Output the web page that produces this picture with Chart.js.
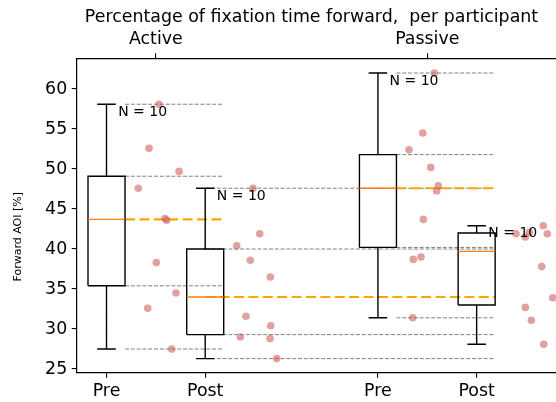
<!DOCTYPE html>
<html>
<head>
<meta charset="utf-8">
<script src="https://cdn.jsdelivr.net/npm/chart.js@4/dist/chart.umd.min.js"></script>
<style>
  html, body { margin: 0; padding: 0; background: #fff; overflow: hidden; }
  canvas { display: block; }
</style>
</head>
<body>
<canvas id="chart" width="556" height="402"></canvas>
<script>
// Box categories and their group headings
const categories = ['Pre', 'Post', 'Pre', 'Post'];
const groups = ['Active', 'Passive'];
const positions = [1, 2, 3.75, 4.75];
const groupPositions = [1.5, 4.25];
const yTicks = [25, 30, 35, 40, 45, 50, 55, 60];

// Box statistics (percent of fixation time on the forward AOI)
const whiskerLow  = [27.5, 26.3, 31.4, 28.1];
const q1          = [35.4, 29.3, 40.2, 33.0];
const median      = [43.7, 34.0, 47.6, 39.7];
const q3          = [49.1, 40.0, 51.8, 42.0];
const whiskerHigh = [58.1, 47.6, 62.0, 42.9];
const counts      = [10, 10, 10, 10];

// Each box's levels are carried across to the right edge of another box (none for the last)
const compareTo   = [1, 3, 3, null];
const carryFrom   = ['edge', 'centre', 'edge', null];

// Per-participant values with their jittered x placement
const activePre   = [58.1, 52.6, 49.7, 47.6, 43.8, 43.6, 38.3, 34.5, 32.6, 27.5];
const activePreX  = [1.532, 1.431, 1.735, 1.322, 1.593, 1.610, 1.505, 1.704, 1.417, 1.661];
const activePost  = [47.6, 41.9, 40.4, 38.6, 36.5, 31.6, 29.0, 30.4, 28.8, 26.3];
const activePostX = [2.484, 2.552, 2.319, 2.457, 2.660, 2.413, 2.356, 2.664, 2.657, 2.724];
const passivePre  = [62.0, 54.5, 52.4, 50.2, 47.9, 47.25, 43.7, 39.0, 38.7, 31.4];
const passivePreX = [4.321, 4.204, 4.065, 4.285, 4.362, 4.345, 4.210, 4.186, 4.108, 4.102];
const passivePost  = [42.9, 41.9, 41.9, 41.5, 42.1, 37.8, 33.9, 32.7, 31.1, 28.1];
const passivePostX = [5.425, 5.466, 5.149, 5.243, 5.284, 5.409, 5.521, 5.243, 5.304, 5.430];

const titleText = 'Percentage of fixation time forward,  per participant';
const yLabel = 'Forward AOI [%]';

// Geometry / style
const BOX_HALF = 0.1875;
const CAP_HALF = 0.094;
const FONT = '"DejaVu Sans", sans-serif';
const BIG = 17.4;

const gap = (x) => ({ x: x, y: null });

// Box outlines, whiskers and caps
const boxPts = [];
positions.forEach((p, i) => {
  const l = p - BOX_HALF, r = p + BOX_HALF;
  boxPts.push({x: l, y: q1[i]}, {x: r, y: q1[i]}, {x: r, y: q3[i]}, {x: l, y: q3[i]}, {x: l, y: q1[i]}, gap(p));
  boxPts.push({x: p, y: q1[i]}, {x: p, y: whiskerLow[i]}, gap(p));
  boxPts.push({x: p - CAP_HALF, y: whiskerLow[i]}, {x: p + CAP_HALF, y: whiskerLow[i]}, gap(p));
  boxPts.push({x: p, y: q3[i]}, {x: p, y: whiskerHigh[i]}, gap(p));
  boxPts.push({x: p - CAP_HALF, y: whiskerHigh[i]}, {x: p + CAP_HALF, y: whiskerHigh[i]}, gap(p));
});

// Medians inside the boxes
const medPts = [];
positions.forEach((p, i) => {
  medPts.push({x: p - BOX_HALF, y: median[i]}, {x: p + BOX_HALF, y: median[i]}, gap(p));
});

// Dashed carry-over lines
const refPts = [], refMedPts = [];
positions.forEach((p, i) => {
  const k = compareTo[i];
  if (k === null) return;
  const start = carryFrom[i] === 'edge' ? p + BOX_HALF : p;
  const end = positions[k] + BOX_HALF;
  [whiskerHigh[i], q3[i], q1[i], whiskerLow[i]].forEach(v => {
    refPts.push({x: start, y: v}, {x: end, y: v}, gap(end));
  });
  refMedPts.push({x: start, y: median[i]}, {x: end, y: median[i]}, gap(end));
});

const dots = [];
[[activePreX, activePre], [activePostX, activePost], [passivePreX, passivePre], [passivePostX, passivePost]]
  .forEach(([xs, ys]) => xs.forEach((xv, j) => dots.push({x: xv, y: ys[j]})));

const lineBase = {
  type: 'line', pointRadius: 0, pointHoverRadius: 0, tension: 0, fill: false,
  spanGaps: false, borderCapStyle: 'butt', borderJoinStyle: 'miter',
  xAxisID: 'x', yAxisID: 'y'
};

const annotate = {
  id: 'annotate',
  afterDraw(chart) {
    const { ctx, scales: { x, y } } = chart;
    ctx.save();
    ctx.fillStyle = '#000';
    ctx.font = BIG + 'px ' + FONT;
    ctx.textAlign = 'center';
    ctx.textBaseline = 'alphabetic';
    ctx.fillText(titleText, 311.5, 22);

    ctx.font = '14px ' + FONT;
    ctx.textAlign = 'left';
    counts.forEach((n, i) => {
      ctx.fillText('N = ' + n, x.getPixelForValue(positions[i] + 0.118), y.getPixelForValue(whiskerHigh[i]) + 11.5);
    });

    ctx.translate(18, 236.7);
    ctx.rotate(-Math.PI / 2);
    ctx.font = '11px ' + FONT;
    ctx.textAlign = 'center';
    ctx.textBaseline = 'middle';
    ctx.fillText(yLabel, 0, 0);
    ctx.restore();
  }
};

const noPad = (s) => { s.paddingLeft = 0; s.paddingRight = 0; s.paddingTop = 0; s.paddingBottom = 0; };

Chart.defaults.color = '#000';
Chart.defaults.font.family = FONT;

new Chart(document.getElementById('chart'), {
  type: 'scatter',
  data: {
    datasets: [
      {
        type: 'scatter', data: dots, order: 0,
        pointRadius: 3.8, pointHoverRadius: 3.8, pointBorderWidth: 0,
        backgroundColor: 'rgba(205, 92, 92, 0.58)', borderColor: 'rgba(0,0,0,0)',
        xAxisID: 'x', yAxisID: 'y'
      },
      Object.assign({}, lineBase, { data: medPts, order: 1, borderColor: '#ff7f0e', borderWidth: 1.4 }),
      Object.assign({}, lineBase, { data: boxPts, order: 2, borderColor: '#000', borderWidth: 1.4 }),
      Object.assign({}, lineBase, { data: refMedPts, order: 3, borderColor: '#ffa500', borderWidth: 2.1, borderDash: [10, 4.4] }),
      Object.assign({}, lineBase, { data: refPts, order: 4, borderColor: '#808080', borderWidth: 1, borderDash: [4, 1.8] })
    ]
  },
  options: {
    responsive: false,
    animation: false,
    devicePixelRatio: 1,
    events: [],
    layout: { padding: 0, autoPadding: false },
    plugins: { legend: { display: false }, tooltip: { enabled: false }, title: { display: false } },
    scales: {
      x: {
        type: 'linear', position: 'bottom', min: 0.698, max: 5.554,
        afterBuildTicks: (s) => { s.ticks = positions.map(v => ({ value: v })); },
        afterFit: (s) => { s.height = 29.3; noPad(s); },
        ticks: { autoSkip: false, maxRotation: 0, padding: 3, font: { size: BIG },
                 callback: (v, i) => categories[i] },
        grid: { drawOnChartArea: false, drawTicks: true, tickLength: 5, color: '#000', lineWidth: 1.1 },
        border: { display: true, color: '#000', width: 1.2 }
      },
      x2: {
        type: 'linear', position: 'top', min: 0.698, max: 5.554,
        afterBuildTicks: (s) => { s.ticks = groupPositions.map(v => ({ value: v })); },
        afterFit: (s) => { s.height = 58.3; noPad(s); },
        ticks: { autoSkip: false, maxRotation: 0, padding: 3.5, font: { size: BIG },
                 callback: (v, i) => groups[i] },
        grid: { drawOnChartArea: false, drawTicks: true, tickLength: 5, color: '#000', lineWidth: 1.1 },
        border: { display: true, color: '#000', width: 1.2 }
      },
      y: {
        type: 'linear', position: 'left', min: 24.54, max: 63.84,
        afterBuildTicks: (s) => { s.ticks = yTicks.map(v => ({ value: v })); },
        afterFit: (s) => { s.width = 76.7; noPad(s); },
        ticks: { padding: 4.5, font: { size: BIG }, callback: (v) => String(v) },
        grid: { drawOnChartArea: false, drawTicks: true, tickLength: 5, color: '#000', lineWidth: 1.1 },
        border: { display: true, color: '#000', width: 1.2 }
      }
    }
  },
  plugins: [annotate]
});
</script>
</body>
</html>
